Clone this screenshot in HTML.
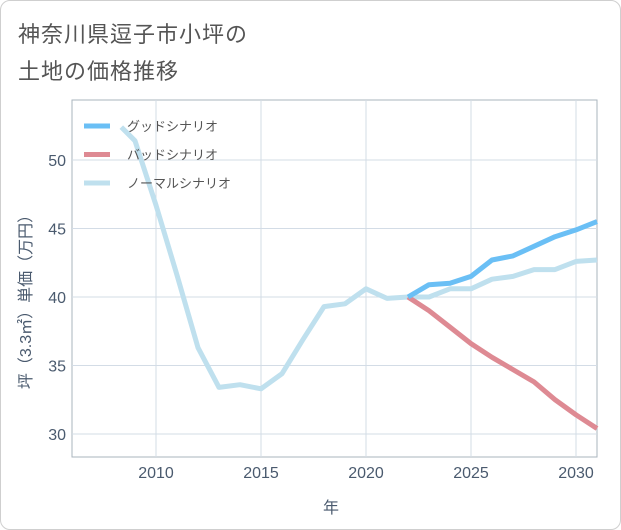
<!DOCTYPE html>
<html><head><meta charset="utf-8"><style>
body{margin:0;background:#fff;}
#wrap{position:relative;width:621px;height:530px;font-family:"Liberation Sans","Noto Sans CJK JP",sans-serif;}
#frame{position:absolute;left:0;top:0;width:619px;height:528px;border:1px solid #cfcfcf;border-radius:10px;}
.title{position:absolute;left:18px;font-size:22px;color:#555;letter-spacing:1px;}
</style></head><body>
<div id="wrap">
<div id="frame"></div>
<div class="title" style="top:17px">神奈川県逗子市小坪の</div>
<div class="title" style="top:54px">土地の価格推移</div>
<svg id="chart" width="621" height="530" style="position:absolute;left:0;top:0"></svg>
</div>
<script>
const normalYears=[2008.35,2009,2010,2011,2012,2013,2014,2015,2016,2017,2018,2019,2020,2021,2022,2023,2024,2025,2026,2027,2028,2029,2030,2031];
const normalValues=[52.4,51.4,46.7,41.6,36.3,33.4,33.6,33.3,34.4,36.9,39.3,39.5,40.6,39.9,40.0,40.0,40.6,40.6,41.3,41.5,42.0,42.0,42.6,42.7];
const scenarioYears=[2022,2023,2024,2025,2026,2027,2028,2029,2030,2031];
const goodValues=[40.0,40.9,41.0,41.5,42.7,43.0,43.7,44.4,44.9,45.5];
const badValues=[40.0,39.0,37.8,36.6,35.6,34.7,33.8,32.5,31.4,30.4];
const xTicks=[2010,2015,2020,2025,2030];
const yTicks=[30,35,40,45,50];
const NS="http://www.w3.org/2000/svg";
const svg=document.getElementById('chart');
const L=72,R=597,T=100,B=457;
const xMin=2006,xMax=2031,yMin=28.32,yMax=54.38;
const X=v=>L+(v-xMin)/(xMax-xMin)*(R-L);
const Y=v=>B-(v-yMin)/(yMax-yMin)*(B-T);
function mk(tag,attrs){const e=document.createElementNS(NS,tag);for(const k in attrs)e.setAttribute(k,attrs[k]);svg.appendChild(e);return e;}
let e;
e=mk('rect',{x:L,y:T,width:R-L,height:B-T,fill:'none',stroke:'#aab4be','stroke-width':1});


xTicks.forEach(t=>{
 e=mk('line',{x1:X(t),x2:X(t),y1:T,y2:B,stroke:'#d3dce6','stroke-width':1});
 
 
 e=mk('text',{x:X(t),y:B+21,'text-anchor':'middle','font-size':16,fill:'#4a5a6e'});e.textContent=t;
 
 
});
yTicks.forEach(t=>{
 e=mk('line',{x1:L,x2:R,y1:Y(t),y2:Y(t),stroke:'#d3dce6','stroke-width':1});
 
 
 e=mk('text',{x:L-6,y:Y(t)+6,'text-anchor':'end','font-size':16,fill:'#4a5a6e'});e.textContent=t;
 
 
});
function line(xs,ys,color,name){
 const d=xs.map((x,i)=>(i?'L':'M')+X(x).toFixed(1)+','+Y(ys[i]).toFixed(1)).join('');
 const p=mk('path',{d:d,fill:'none',stroke:color,'stroke-width':5,'stroke-linejoin':'round'});
 
 
}
line(normalYears,normalValues,'#bfe0ee','normal-scenario-line');
line(scenarioYears,badValues,'#de8a93','bad-scenario-line');
line(scenarioYears,goodValues,'#6abff5','good-scenario-line');
const legend=[['グッドシナリオ','#6abff5','legend-good'],['バッドシナリオ','#de8a93','legend-bad'],['ノーマルシナリオ','#bfe0ee','legend-normal']];
legend.forEach((l,i)=>{
 const y=126+i*28.5;
 e=mk('line',{x1:84,x2:110,y1:y,y2:y,stroke:l[1],'stroke-width':5});
 
 
 e=mk('text',{x:127,y:y+5,'font-size':13,fill:'#555'});e.textContent=l[0];
 
 
});
e=mk('text',{x:331,y:513,'text-anchor':'middle','font-size':16,fill:'#4a5a6e'});e.textContent='年';


e=mk('text',{x:0,y:0,'text-anchor':'middle','font-size':16,fill:'#4a5a6e',transform:'translate(31,298) rotate(-90)'});e.textContent='坪（3.3㎡）単価（万円）';


</script>
</body></html>
